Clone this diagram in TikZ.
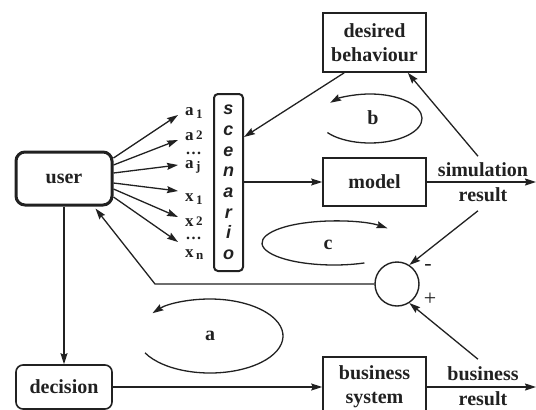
\documentclass[tikz,border=0pt]{standalone}
\usepackage{fontspec}
\setmainfont{Liberation Serif}
\newfontfamily\scenfont{Liberation Sans}
\usetikzlibrary{arrows.meta,calc}
\definecolor{ink}{gray}{0.13}
\newcommand\mysub[3]{{\fontsize{17}{17}\selectfont\bfseries #1}\hspace{2.5pt}\raisebox{#3}{\fontsize{13}{13}\selectfont\bfseries #2}}
\newcommand\mydots{{\fontsize{16}{16}\selectfont\bfseries .\hspace{1.5pt}.\hspace{1.5pt}.}}
\begin{document}
\begin{tikzpicture}[x=1pt,y=-1pt,
  every node/.style={text=ink},
  lbl/.style={font=\fontsize{20}{24}\selectfont\bfseries, align=center, inner sep=0pt},
  box/.style={draw=ink, line width=1.6pt, minimum width=103pt, lbl},
  conn/.style={draw=ink, line width=1.3pt, -{Stealth[length=11pt,width=7pt,inset=1.5pt]}},
  sublbl/.style={anchor=base west, inner sep=0pt},
  sign/.style={font=\fontsize{22}{22}\selectfont, inner sep=0pt}
]
\useasboundingbox (0,0) rectangle (536,410);
\clip (0,0) rectangle (536,410);

% boxes
\node[box, minimum width=96pt, minimum height=53pt, line width=3pt, rounded corners=9pt] (user) at (64,178.5) {user};
\node[box, minimum width=29pt, minimum height=177pt, line width=2pt, rounded corners=4pt,
      font=\scenfont\fontsize{18}{20.7}\selectfont\bfseries\itshape] (scen) at (228.5,182.5) {s\\c\\e\\n\\a\\r\\i\\o};
\node[box, minimum height=59pt] (desired) at (374.5,42.5) {desired\\behaviour};
\node[box, minimum height=48pt] (model) at (374.5,182) {model};
\node[box, minimum height=60pt] (bsys) at (374.5,387) {business\\system};
\node[box, minimum width=96pt, minimum height=44pt, rounded corners=7pt] (decision) at (64,387) {decision};
\node[draw=ink, circle, line width=1.4pt, minimum size=44pt, inner sep=0pt] (sum) at (397,284) {};

% free labels
\node[lbl, font=\fontsize{20}{25}\selectfont\bfseries] (simres) at (483,182) {simulation\\result};
\node[lbl, font=\fontsize{20}{25}\selectfont\bfseries] (bres) at (483,386) {business\\result};
\node[lbl] (lb) at (373,118) {b};
\node[lbl] (lc) at (328,245) {c};
\node[lbl] (la) at (210,336) {a};
\node[sign] (minus) at (428,267) {-};
\node[sign] (plus) at (430,299) {+};

% variable labels
\node[sublbl] (la1) at (185,115) {\mysub{a}{1}{-3pt}};
\node[sublbl] (la2) at (185,140) {\mysub{a}{2}{1pt}};
\node[sublbl] (dots1) at (186,154) {\mydots};
\node[sublbl] (laj) at (185,168.5) {\mysub{a}{j}{-2pt}};
\node[sublbl] (lx1) at (185,201.7) {\mysub{x}{1}{-3pt}};
\node[sublbl] (lx2) at (185,226) {\mysub{x}{2}{1pt}};
\node[sublbl] (dots2) at (186,239) {\mydots};
\node[sublbl] (lxn) at (185,257) {\mysub{x}{n}{-2pt}};

% coordinates
\coordinate (t1) at (178,115);
\coordinate (t2) at (178,140);
\coordinate (t3) at (178,165);
\coordinate (t4) at (178,191);
\coordinate (t5) at (178,217);
\coordinate (t6) at (178,242);
\coordinate (simend) at (536,182);
\coordinate (bresend) at (536,387);
\coordinate (corner) at (155,284);

% fan
\foreach \i/\dy in {1/20.5,2/13.5,3/5.5,4/-4.5,5/-10.5,6/-18.5}
  \draw[conn] ([yshift=\dy pt]user.east) -- (t\i);

% connectors
\draw[conn] (scen.east |- model.west) -- (model.west);
\draw[conn] (model.east) -- (simend);
\draw[conn] (bsys.east) -- (bresend);
\draw[conn] (decision.east) -- (bsys.west);
\draw[conn] (user.south) -- (decision.north);
\draw[conn] ([xshift=-5pt,yshift=6pt]simres.north) -- ([xshift=-19pt]desired.south east);
\draw[conn] ([xshift=22pt]desired.south west) -- ([yshift=45.5pt]scen.east);
\draw[conn] ([xshift=-5pt,yshift=-9pt]simres.south) -- (sum.57);
\draw[conn] ([xshift=-5pt,yshift=7pt]bres.north) -- (sum.-57);
\draw[conn] (sum.west) -- (corner) -- ([xshift=-18pt,yshift=-2pt]user.south east);

% loops
\draw[conn] ($(370,118.5)+(-215:52 and 24.5)$) arc[start angle=-215, end angle=-500, x radius=52, y radius=24.5];
\draw[conn] ($(334,243)+(65:72 and 22)$) arc[start angle=65, end angle=318, x radius=72, y radius=22];
\draw[conn] ($(210,336)+(-207:73 and 37)$) arc[start angle=-207, end angle=-502, x radius=73, y radius=37];
\end{tikzpicture}
\end{document}
